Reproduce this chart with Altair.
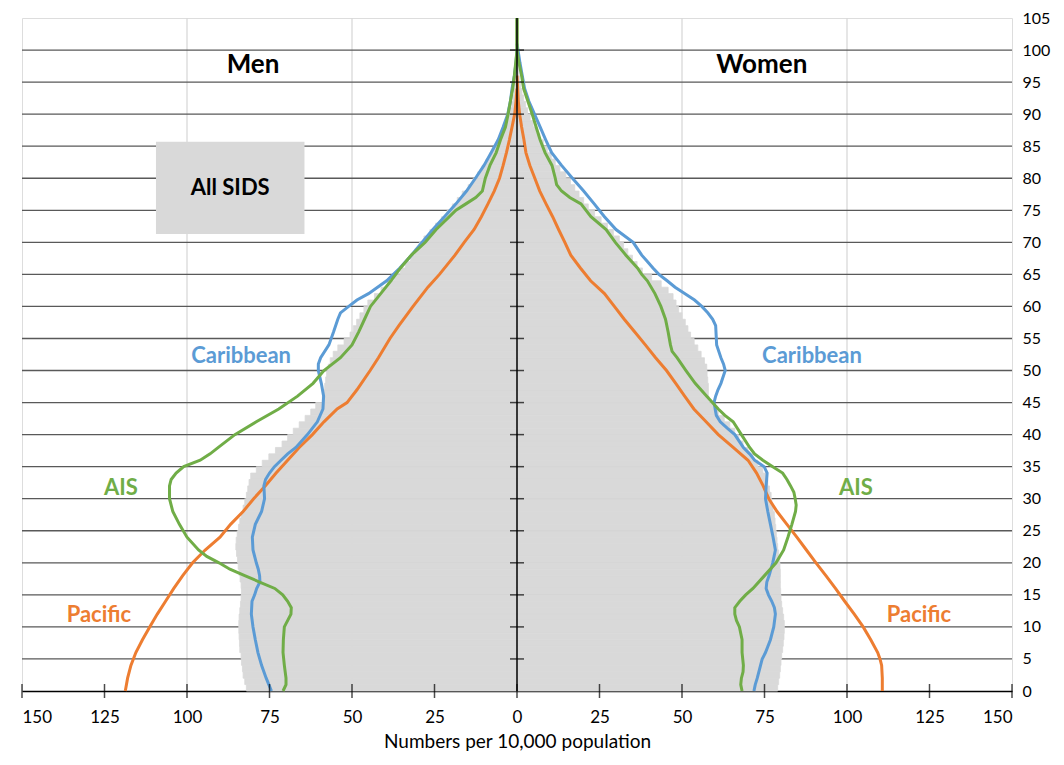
import altair as alt
import pandas as pd

# ---------------- data ----------------
ages = list(range(0, 101))
men_all = [82.0, 82.5, 83.0, 83.2, 83.5, 83.6, 84.0, 84.1, 84.2, 84.3,
           84.3, 84.2, 84.0, 83.8, 83.6, 83.5, 83.6, 83.9, 84.2, 84.5,
           84.7, 85.0, 85.2, 85.1, 84.8, 84.4, 84.0, 83.5, 83.0, 82.5,
           82.0, 81.6, 81.2, 80.7, 79.0, 77.2, 75.2, 73.2, 71.2, 69.5,
           67.8, 66.0, 64.2, 62.5, 61.0, 59.0, 58.6, 58.3, 58.0, 57.7,
           57.2, 56.6, 55.7, 54.3, 52.4, 50.6, 49.6, 48.6, 47.6, 46.4,
           45.2, 43.2, 41.2, 39.2, 37.2, 35.4, 33.8, 32.3, 30.9, 29.6,
           28.2, 26.4, 24.7, 22.9, 21.2, 19.6, 18.1, 16.6, 14.8, 13.3,
           11.9, 10.6, 9.4, 8.2, 7.1, 6.1, 5.1, 4.3, 3.5, 2.7,
           2.1, 1.6, 1.2, 0.9, 0.7, 0.5, 0.35, 0.25, 0.15, 0.1,
           0.1]
women_all = [79.0, 79.3, 79.6, 79.8, 80.0, 80.2, 80.5, 80.7, 80.9, 81.0,
             81.0, 80.8, 80.5, 80.2, 80.0, 79.9, 79.8, 79.8, 79.8, 79.7,
             79.6, 79.3, 79.0, 78.8, 78.6, 78.4, 78.2, 78.0, 77.6, 77.2,
             77.0, 76.5, 76.0, 75.5, 74.5, 73.0, 71.5, 70.0, 68.5, 67.2,
             66.0, 64.5, 62.8, 61.0, 59.5, 58.2, 58.0, 58.0, 57.8, 57.6,
             57.5, 56.8, 55.8, 54.8, 53.7, 52.6, 51.8, 51.0, 50.0, 49.0,
             48.2, 47.3, 45.8, 43.7, 40.8, 38.0, 36.4, 35.0, 33.6, 32.3,
             31.0, 29.2, 27.4, 25.5, 23.5, 21.6, 20.2, 18.8, 17.5, 16.2,
             14.8, 13.0, 11.6, 10.4, 9.2, 8.0, 6.9, 5.8, 4.9, 4.0,
             3.2, 2.6, 2.0, 1.5, 1.1, 0.8, 0.6, 0.4, 0.3, 0.2,
             0.2]

# Pacific
pac_m_age = [0, 2, 4, 6, 8, 10, 12, 14, 16, 18, 20, 22, 24, 26, 28, 30, 32, 34, 36, 38,
             40, 42, 44, 45, 47, 50, 52, 55, 57, 60, 63, 65, 68, 70, 72, 74, 76, 78, 80,
             82, 84, 86, 88, 90, 92, 94]
pac_m_val = [118.7, 118.0, 117.0, 115.5, 113.5, 111.3, 109.0, 106.5, 104.0, 101.3, 98.3,
             94.5, 90.0, 86.8, 83.0, 79.8, 76.3, 73.0, 69.5, 66.0,
             62.0, 58.5, 54.5, 51.5, 48.5, 44.5, 42.0, 38.5, 35.8, 31.5, 27.0, 23.5, 18.8,
             16.0, 13.0, 10.8, 8.8, 6.9, 5.3, 4.2, 3.2, 2.3, 1.5, 0.7, 0.3, 0.0]
pac_w_age = [0, 2, 4, 5, 6, 8, 10, 12, 14, 16, 18, 20, 22, 24, 26, 28, 30, 32, 34, 36, 38,
             40, 42, 44, 46, 48, 50, 52, 54, 56, 58, 60, 62, 64, 66, 68, 70, 72, 74, 76,
             78, 80, 82, 84, 86, 88, 90, 92, 94, 96]
pac_w_val = [110.7, 110.7, 110.5, 110.0, 109.3, 107.2, 104.9, 102.2, 99.3, 96.5, 93.6,
             90.6, 87.7, 84.8, 81.8, 78.8, 76.3, 74.6, 72.6, 70.0, 65.5,
             61.0, 57.3, 53.6, 50.8, 48.1, 45.3, 42.0, 38.9, 35.7, 32.5, 29.5, 26.5, 22.3,
             19.2, 16.3, 14.5, 12.6, 10.8, 8.8, 6.9, 5.4, 3.9, 2.7, 2.1, 1.4, 0.8, 0.4,
             0.2, 0.0]

# Caribbean
car_m_age = [0, 1, 2, 4, 6, 8, 10, 12, 14, 15, 16, 17, 18, 19, 20, 22, 24, 26, 28, 30,
             32, 33, 34, 35, 36, 37, 38, 40, 42, 44, 46, 48, 50, 51, 52, 54, 56, 58, 59,
             60, 61, 62, 64, 66, 68, 70, 72, 74, 76, 78, 80, 82, 84, 86, 88, 90, 92, 94,
             96, 98, 100]
car_m_val = [74.4, 75.2, 76.0, 77.4, 78.5, 79.3, 80.0, 80.5, 80.3, 79.5, 78.9, 77.9, 78.0,
             78.4, 79.0, 80.0, 80.2, 79.3, 77.4, 76.5, 76.7, 76.2, 75.0, 73.5, 71.5, 69.5,
             67.0, 63.5, 60.5, 58.8, 58.6, 59.3, 60.2, 60.2, 59.5, 57.0, 55.6, 54.3, 53.5,
             51.0, 48.5, 45.0, 39.5, 35.5, 32.0, 28.8, 25.5, 22.0, 18.5, 15.3, 12.6, 10.0,
             7.8, 5.7, 4.2, 2.8, 2.0, 1.5, 0.8, 0.3, 0.0]
car_w_age = [0, 1, 2, 4, 5, 6, 8, 10, 12, 13, 14, 15, 16, 17, 18, 20, 22, 24, 26, 28, 30,
             32, 34, 35, 36, 37, 38, 40, 41, 42, 43, 45, 46, 47, 48, 50, 51, 52, 54, 56,
             57, 58, 59, 60, 61, 62, 63, 64, 65, 66, 67, 68, 70, 72, 74, 76, 78, 80, 82,
             84, 86, 88, 90, 92, 94, 96, 98, 100, 101]
car_w_val = [71.8, 72.2, 72.8, 73.8, 74.3, 75.3, 76.8, 77.8, 78.3, 78.0, 77.2, 76.2, 75.5,
             75.7, 76.4, 77.5, 78.3, 77.6, 76.8, 76.0, 75.3, 75.5, 75.8, 74.9, 72.0, 70.5,
             68.6, 66.0, 63.7, 61.6, 60.4, 59.7, 60.2, 60.9, 61.8, 63.1, 62.6, 61.8, 60.5,
             60.3, 60.2, 59.3, 57.8, 56.0, 53.8, 50.8, 47.9, 45.5, 43.0, 41.2, 39.5, 37.8,
             35.2, 30.0, 26.5, 23.4, 20.2, 16.8, 13.5, 10.5, 8.7, 7.0, 5.3, 3.6, 2.3, 1.6,
             0.9, 0.3, 0.0]

# AIS
ais_m_age = [0, 1, 2, 4, 6, 8, 10, 12, 13, 14, 15, 16, 17, 18, 19, 20, 21, 22, 24, 26,
             28, 30, 32, 33, 34, 35, 36, 37, 38, 40, 42, 44, 46, 48, 50, 52, 54, 56, 58,
             60, 62, 64, 66, 68, 70, 72, 74, 75, 76, 77, 78, 80, 82, 84, 86, 88, 90, 92,
             94, 96, 98, 100, 105]
ais_m_val = [70.9, 70.0, 70.0, 70.5, 70.9, 70.8, 70.5, 68.5, 68.4, 69.5, 71.0, 73.4, 78.0,
             82.5, 87.0, 90.3, 94.0, 96.5, 100.0, 102.3, 104.3, 105.3, 105.3, 104.8, 103.3,
             101.0, 96.0, 93.0, 90.5, 85.5, 79.0, 72.2, 66.5, 61.8, 58.5, 53.5, 50.0, 48.0,
             46.2, 44.4, 41.3, 38.2, 35.3, 32.0, 27.8, 24.5, 20.5, 18.5, 15.5, 12.5, 10.5,
             9.6, 8.2, 6.3, 5.0, 3.5, 2.7, 2.0, 1.3, 0.8, 0.4, 0.0, 0.0]
ais_w_age = [0, 1, 2, 3, 4, 6, 8, 10, 11, 12, 13, 14, 15, 16, 18, 20, 22, 24, 26, 28, 29,
             30, 31, 32, 33, 34, 35, 36, 37, 38, 40, 42, 43, 44, 46, 48, 50, 52, 53, 54,
             56, 58, 60, 62, 64, 65, 66, 68, 70, 72, 74, 76, 77, 78, 79, 80, 82, 84, 86,
             88, 90, 92, 94, 96, 98, 100, 105]
ais_w_val = [68.2, 67.8, 68.0, 68.5, 68.6, 68.2, 68.2, 67.4, 66.5, 66.0, 66.0, 67.5, 69.3,
             71.5, 75.0, 78.5, 80.8, 82.1, 83.3, 84.4, 84.6, 84.3, 83.9, 82.9, 81.8, 80.5,
             77.5, 74.5, 72.0, 70.5, 68.0, 65.5, 63.0, 61.0, 57.5, 54.0, 51.2, 48.5, 47.0,
             46.5, 45.8, 45.0, 43.6, 41.8, 39.5, 37.8, 36.5, 33.0, 29.8, 27.0, 22.4, 19.4,
             16.0, 13.5, 12.0, 11.6, 10.6, 8.5, 7.0, 5.8, 4.6, 3.3, 2.0, 1.4, 0.6, 0.0, 0.0]

regions = ["Caribbean", "AIS", "Pacific"]
region_colors = ["#5B9BD5", "#70AD47", "#ED7D31"]

label_text = ["Caribbean", "Caribbean", "AIS", "AIS", "Pacific", "Pacific"]
label_region = ["Caribbean", "Caribbean", "AIS", "AIS", "Pacific", "Pacific"]
label_x = [-83.6, 89.4, -120.0, 102.7, -126.7, 121.8]
label_age = [52.2, 52.2, 31.7, 31.7, 11.8, 11.8]

head_text = ["Men", "Women"]
head_x = [-80.0, 74.2]
head_age = [97.6, 97.6]

box_text = ["All SIDS"]
box_x0 = [-109.4]
box_x1 = [-64.4]
box_a0 = [71.3]
box_a1 = [85.7]

x_ticks = list(range(-150, 151, 25))
age_ticks = list(range(0, 106, 5))
vgrid = [-100, -50, 50, 100]

# ---------------- frames ----------------
bars = pd.DataFrame({
    "age": ages * 2,
    "age_end": [a + 1 for a in ages] * 2,
    "x": [-v for v in men_all] + women_all,
    "x0": [0.0] * (2 * len(ages)),
})

series = [
    ("Pacific", "Men", pac_m_age, pac_m_val),
    ("Pacific", "Women", pac_w_age, pac_w_val),
    ("Caribbean", "Men", car_m_age, car_m_val),
    ("Caribbean", "Women", car_w_age, car_w_val),
    ("AIS", "Men", ais_m_age, ais_m_val),
    ("AIS", "Women", ais_w_age, ais_w_val),
]
rows = []
for reg, sex, a_list, v_list in series:
    sign = -1 if sex == "Men" else 1
    for a, v in zip(a_list, v_list):
        rows.append({"region": reg, "sex": sex, "key": reg + sex, "age": a, "x": sign * v})
lines = pd.DataFrame(rows)

labels = pd.DataFrame({"text": label_text, "region": label_region, "x": label_x, "age": label_age})
heads = pd.DataFrame({"text": head_text, "x": head_x, "age": head_age})
box = pd.DataFrame({"text": box_text, "x": box_x0, "x0": box_x1, "age": box_a0, "age_end": box_a1})
box_lbl = pd.DataFrame({"text": box_text, "x": [(box_x0[0] + box_x1[0]) / 2],
                        "age": [(box_a0[0] + box_a1[0]) / 2]})
hgrid_df = pd.DataFrame({"age": [a for a in age_ticks if 0 < a < 105]})
vgrid_df = pd.DataFrame({"x": vgrid})
xt_df = pd.DataFrame({"x": x_ticks, "age": [0] * len(x_ticks)})
ct_df = pd.DataFrame({"x": [0] * (len(age_ticks) - 2), "age": age_ticks[1:-1]})
center_df = pd.DataFrame({"x": [0]})

# ---------------- encodings ----------------
FONT = "Lato"
xscale = alt.Scale(domain=[-150, 150], nice=False, zero=False)
yscale = alt.Scale(domain=[0, 105], nice=False, zero=False)
xaxis = alt.Axis(values=x_ticks, labelExpr="abs(datum.value)", grid=False, ticks=False,
                 tickSize=0, domainColor="black", domainWidth=1.5, labelPadding=18,
                 labelFontSize=17, labelColor="black", labelFont=FONT,
                 title="Numbers per 10,000 population", titleFontSize=19,
                 titleFontWeight="normal", titleColor="black", titleFont=FONT,
                 titlePadding=7, labelOverlap=False)
yaxis = alt.Axis(orient="right", values=age_ticks, grid=False, ticks=False, domain=False,
                 labelPadding=10, labelFontSize=16, labelColor="black", labelFont=FONT,
                 title=None, labelOverlap=False)

X = alt.X("x:Q", scale=xscale, axis=xaxis)
Y = alt.Y("age:Q", scale=yscale, axis=yaxis)
color = alt.Color("region:N", scale=alt.Scale(domain=regions, range=region_colors), legend=None)

vgrid_l = alt.Chart(vgrid_df).mark_rule(color="#d9d9d9", strokeWidth=1.3).encode(x=X)
hgrid_l = alt.Chart(hgrid_df).mark_rule(color="#595959", strokeWidth=1.3).encode(y=Y)
bars_l = alt.Chart(bars).mark_bar(color="#d9d9d9", opacity=1, stroke="#d9d9d9",
                                  strokeWidth=0.8).encode(x=X, x2="x0", y=Y, y2="age_end")
box_l = alt.Chart(box).mark_rect(color="#d9d9d9").encode(x=X, x2="x0", y=Y, y2="age_end")
box_t = alt.Chart(box_lbl).mark_text(font=FONT, fontSize=22, fontWeight="bold",
                                     color="black").encode(x=X, y=Y, text="text:N")
lines_l = alt.Chart(lines).mark_line(strokeWidth=3, interpolate="linear").encode(
    x=X, y=Y, color=color, detail="key:N", order=alt.Order("age:Q"))
center_l = alt.Chart(center_df).mark_rule(color="black", strokeWidth=1.5).encode(x=X)
ct_l = alt.Chart(ct_df).mark_tick(orient="horizontal", size=14, thickness=1.5,
                                  color="black").encode(x=X, y=Y)
xt_l = alt.Chart(xt_df).mark_tick(orient="vertical", size=14, thickness=1.5,
                                  color="black").encode(x=X, y=Y)
labels_l = alt.Chart(labels).mark_text(font=FONT, fontSize=22, fontWeight="bold").encode(
    x=X, y=Y, text="text:N", color=color)
heads_l = alt.Chart(heads).mark_text(font=FONT, fontSize=26, fontWeight="bold",
                                     color="black").encode(x=X, y=Y, text="text:N")

chart = alt.layer(
    vgrid_l, hgrid_l, bars_l, box_l, box_t, lines_l, center_l, ct_l, xt_l, labels_l, heads_l
).properties(
    width=990, height=673,
    autosize=alt.AutoSizeParams(type="none"),
    padding={"left": 14, "top": 10, "right": 42, "bottom": 64},
).configure_view(stroke="black", strokeWidth=1.5).configure(font=FONT, background="white")

chart.save("out.html", embed_options={"renderer": "svg", "actions": False})
